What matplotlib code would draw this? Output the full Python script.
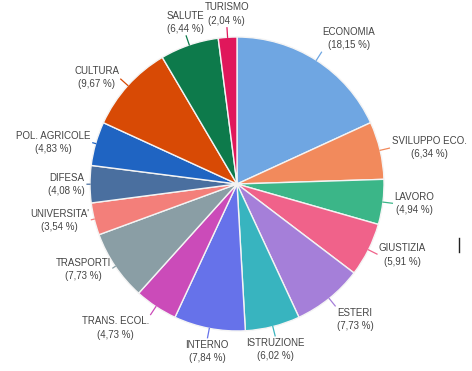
import numpy as np
import matplotlib
matplotlib.use("Agg")
import matplotlib.pyplot as plt
from matplotlib.lines import Line2D

categories = ["ECONOMIA", "SVILUPPO ECO.", "LAVORO", "GIUSTIZIA", "ESTERI",
              "ISTRUZIONE", "INTERNO", "TRANS. ECOL.", "TRASPORTI", "UNIVERSITA'",
              "DIFESA", "POL. AGRICOLE", "CULTURA", "SALUTE", "TURISMO"]
values = [18.15, 6.34, 4.94, 5.91, 7.73, 6.02, 7.84, 4.73, 7.73, 3.54,
          4.08, 4.83, 9.67, 6.44, 2.04]
colors = ["#6fa6e2", "#f28a5c", "#3bb688", "#f0628a", "#a57fd9",
          "#38b4bf", "#6672ea", "#cb4bb9", "#8a9ea5", "#f37f7a",
          "#4a6f9f", "#1f64c2", "#d84a05", "#0d7a4b", "#e0175b"]

W, H = 472, 371
cx, cy, R = 237, 184, 147

fig = plt.figure(figsize=(W / 100, H / 100), dpi=100)
ax = fig.add_axes([0, 0, 1, 1])
ax.axis("off")

wedges, _ = ax.pie(values, colors=colors, startangle=90, counterclock=False,
                   radius=1.0, wedgeprops=dict(edgecolor="#f4f4f4", linewidth=1.0))
ax.set_xlim(-cx / R, (W - cx) / R)
ax.set_ylim(-(H - cy) / R, cy / R)
ax.set_aspect("auto")

for w, cat, val, col in zip(wedges, categories, values, colors):
    ang = np.deg2rad((w.theta1 + w.theta2) / 2)
    c, s = np.cos(ang), np.sin(ang)
    ha = "left" if c > 0.45 else ("right" if c < -0.45 else "center")
    va = "bottom" if s > 0.72 else ("top" if s < -0.72 else "center")
    rt = 1.035 if c < -0.8 else 1.08
    label = f"{cat}\n({f'{val:.2f}'.replace('.', ',')} %)"
    ax.plot([c * 1.0, c * (rt - 0.015)], [s * 1.0, s * (rt - 0.015)], color=col, lw=0.9)
    ax.text(c * rt, s * rt, label, ha=ha, va=va, multialignment="center",
            fontsize=7, family="Liberation Sans", color="#444444", linespacing=1.4)

fig.add_artist(Line2D([459 / W, 459 / W], [1 - 238 / H, 1 - 252 / H],
                      color="#222222", lw=1.0, transform=fig.transFigure))

fig.savefig("out.png", dpi=100)
